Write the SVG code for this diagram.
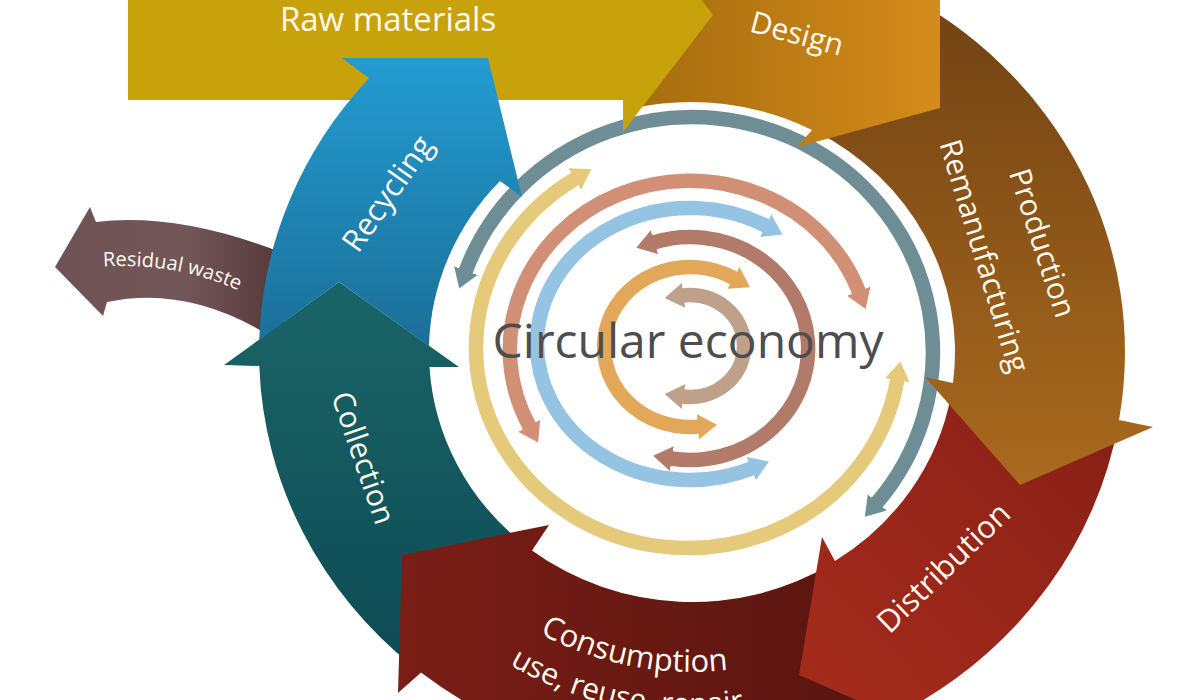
<svg xmlns="http://www.w3.org/2000/svg" width="1200" height="700" viewBox="0 0 1200 700">
<defs>
<style>
.lbl{font-family:"Open Sans","Liberation Sans",sans-serif;fill:#fffaee;}
.ring{fill:none;stroke-width:14.5;}
.ce{font-family:"Open Sans","Liberation Sans",sans-serif;fill:#4d4d4f;}
</style>
<linearGradient id="gDesign" gradientUnits="userSpaceOnUse" x1="640" y1="60" x2="940" y2="60"><stop offset="0" stop-color="#a66d10"/><stop offset="1" stop-color="#d58b1a"/></linearGradient>
<linearGradient id="gProd" gradientUnits="userSpaceOnUse" x1="0" y1="20" x2="0" y2="480"><stop offset="0" stop-color="#744414"/><stop offset="1" stop-color="#a96a1e"/></linearGradient>
<linearGradient id="gDist" gradientUnits="userSpaceOnUse" x1="1100" y1="420" x2="820" y2="680"><stop offset="0" stop-color="#8a2016"/><stop offset="1" stop-color="#a32b1c"/></linearGradient>
<linearGradient id="gCons" gradientUnits="userSpaceOnUse" x1="400" y1="0" x2="840" y2="0"><stop offset="0" stop-color="#7a1e16"/><stop offset="1" stop-color="#5b1510"/></linearGradient>
<linearGradient id="gColl" gradientUnits="userSpaceOnUse" x1="0" y1="280" x2="0" y2="660"><stop offset="0" stop-color="#1a6567"/><stop offset="1" stop-color="#0e4b55"/></linearGradient>
<linearGradient id="gRecy" gradientUnits="userSpaceOnUse" x1="0" y1="58" x2="0" y2="345"><stop offset="0" stop-color="#239bd1"/><stop offset="1" stop-color="#1b6f98"/></linearGradient>
<linearGradient id="gResi" gradientUnits="userSpaceOnUse" x1="55" y1="0" x2="275" y2="0"><stop offset="0" stop-color="#6f5254"/><stop offset="0.6" stop-color="#735658"/><stop offset="1" stop-color="#573a3c"/></linearGradient>
<marker id="mGray" viewBox="-1 -13 20 26" refX="0" refY="0" markerWidth="20" markerHeight="26" markerUnits="userSpaceOnUse" orient="auto-start-reverse"><path d="M-1,-12.5 L18,0 L-1,12.5 Z" fill="#6f8d95"/></marker>
<marker id="mYellow" viewBox="-1 -13 20 26" refX="0" refY="0" markerWidth="20" markerHeight="26" markerUnits="userSpaceOnUse" orient="auto-start-reverse"><path d="M-1,-12.5 L18,0 L-1,12.5 Z" fill="#e5ca7c"/></marker>
<marker id="mSalmon" viewBox="-1 -13 20 26" refX="0" refY="0" markerWidth="20" markerHeight="26" markerUnits="userSpaceOnUse" orient="auto-start-reverse"><path d="M-1,-12.5 L18,0 L-1,12.5 Z" fill="#d18f75"/></marker>
<marker id="mBlue" viewBox="-1 -13 20 26" refX="0" refY="0" markerWidth="20" markerHeight="26" markerUnits="userSpaceOnUse" orient="auto-start-reverse"><path d="M-1,-12.5 L18,0 L-1,12.5 Z" fill="#95c3e2"/></marker>
<marker id="mBrown" viewBox="-1 -13 20 26" refX="0" refY="0" markerWidth="20" markerHeight="26" markerUnits="userSpaceOnUse" orient="auto-start-reverse"><path d="M-1,-12.5 L18,0 L-1,12.5 Z" fill="#b27a69"/></marker>
<marker id="mOrange" viewBox="-1 -13 20 26" refX="0" refY="0" markerWidth="20" markerHeight="26" markerUnits="userSpaceOnUse" orient="auto-start-reverse"><path d="M-1,-12.5 L18,0 L-1,12.5 Z" fill="#e3a75a"/></marker>
<marker id="mTan" viewBox="-1 -13 20 26" refX="0" refY="0" markerWidth="20" markerHeight="26" markerUnits="userSpaceOnUse" orient="auto-start-reverse"><path d="M-1,-12.5 L18,0 L-1,12.5 Z" fill="#bea08b"/></marker>
<path id="pCons1" d="M391.3,461.4 A320,320 0 0 0 992.7,461.4"/>
<path id="pCons2" d="M351.8,475.8 A362,362 0 0 0 1032.2,475.8"/>
<path id="pResi" d="M25.2,283.2 A286,286 0 0 1 342.1,368.2"/>
</defs>
<rect width="1200" height="700" fill="#ffffff"/>

<g id="connectors">
<path class="ring" stroke="#6f8d95" marker-start="url(#mGray)" marker-end="url(#mGray)" d="M465.5,271.6 A241,235 0 1 1 876.6,503.1"/>
<path class="ring" stroke="#e5ca7c" marker-start="url(#mYellow)" marker-end="url(#mYellow)" d="M897.4,379.3 A212,200 0 1 1 575.7,178.4"/>
<path class="ring" stroke="#d18f75" marker-start="url(#mSalmon)" marker-end="url(#mSalmon)" d="M529.6,426.7 A180,169 0 1 1 859.1,292.2"/>
<path class="ring" stroke="#95c3e2" marker-start="url(#mBlue)" marker-end="url(#mBlue)" d="M752.2,468.2 A153,136 0 1 1 766.5,226.2"/>
<path class="ring" stroke="#b27a69" marker-start="url(#mBrown)" marker-end="url(#mBrown)" d="M653.5,242.5 A118,111.5 0 1 1 670.9,458.5"/>
<path class="ring" stroke="#e3a75a" marker-start="url(#mOrange)" marker-end="url(#mOrange)" d="M699,426.6 A86,80 0 1 1 734.3,278.4"/>
<path class="ring" stroke="#bea08b" marker-start="url(#mTan)" marker-end="url(#mTan)" d="M682.5,295.5 A54,51 0 1 1 682.5,396.5"/>
</g>

<g id="residual-waste">
<path fill="url(#gResi)" d="M55,267 L90,207 L96,222 Q179.5,212 285,254 L285,340 L270,336 Q187.5,285 107,302 L103,316 Z"/>
<text class="lbl" font-size="20"><textPath href="#pResi" startOffset="80">Residual waste</textPath></text>
</g>

<g id="collection">
<path fill="url(#gColl)" d="M522.9,543.5 L413.7,666.8 A433,411 0 0 1 259.3,366 L224,365 L339,282 L459,367 L429.5,367 A263,250 0 0 0 522.9,543.5 Z"/>
<text class="lbl" font-size="30" text-anchor="middle" transform="translate(363,458) rotate(71)" y="10">Collection</text>
</g>

<g id="consumption">
<path fill="url(#gCons)" d="M831.4,564 L921.5,700.6 A433,411 0 0 1 421,672.6 L398,693 L402,555 L549,525 L532,550.4 A263,250 0 0 0 831.4,564 Z"/>
<text class="lbl" font-size="31"><textPath href="#pCons1" startOffset="232">Consumption</textPath></text>
<text class="lbl" font-size="30"><textPath href="#pCons2" startOffset="251">use, reuse, repair</textPath></text>
</g>

<g id="distribution">
<path fill="url(#gDist)" d="M951,395.4 L1118.4,423.4 A433,411 0 0 1 913.4,705.8 L927,731 L799,675 L822,537 L835,561 A263,250 0 0 0 951,395.4 Z"/>
<text class="lbl" font-size="31" text-anchor="middle" transform="translate(944,568) rotate(-44)" y="10">Distribution</text>
</g>

<g id="production">
<path fill="url(#gProd)" d="M815.5,131.3 L895.3,-10.9 A433,411 0 0 1 1119,420 L1153,427 L1020,485 L925,377 L953,383 A263,250 0 0 0 815.5,131.3 Z"/>
<text class="lbl" font-size="30" text-anchor="middle" transform="translate(1042,243) rotate(72)" y="10">Production</text>
<text class="lbl" font-size="30" text-anchor="middle" transform="translate(984,256) rotate(73)" y="10">Remanufacturing</text>
</g>

<g id="design">
<path fill="url(#gDesign)" d="M632.8,108.4 L594.6,-48.5 A433,411 0 0 1 915,0 L940,-32 L940,108 L797,147 L812,130 A263,250 0 0 0 632.8,108.4 Z"/>
<text class="lbl" font-size="30" text-anchor="middle" transform="translate(797,34) rotate(15)" y="10">Design</text>
</g>

<g id="raw-materials">
<path fill="#c8a20a" d="M128,-70 L623,-70 L623,-102 L713,15 L623,132 L623,100 L128,100 Z"/>
<text class="lbl" font-size="33" text-anchor="middle" x="388" y="31">Raw materials</text>
</g>

<g id="recycling">
<path fill="url(#gRecy)" d="M259.2,340 A433,411 0 0 1 369,78.3 L342,58 L488,58 L522,197 L500,181 A263,250 0 0 0 429,346 L339,282 Z"/>
<text class="lbl" font-size="31" text-anchor="middle" transform="translate(388,194) rotate(-55)" y="10">Recycling</text>
</g>

<g id="circular-economy">
<text class="ce" font-size="48" text-anchor="middle" x="688" y="358">Circular economy</text>
</g>
</svg>
